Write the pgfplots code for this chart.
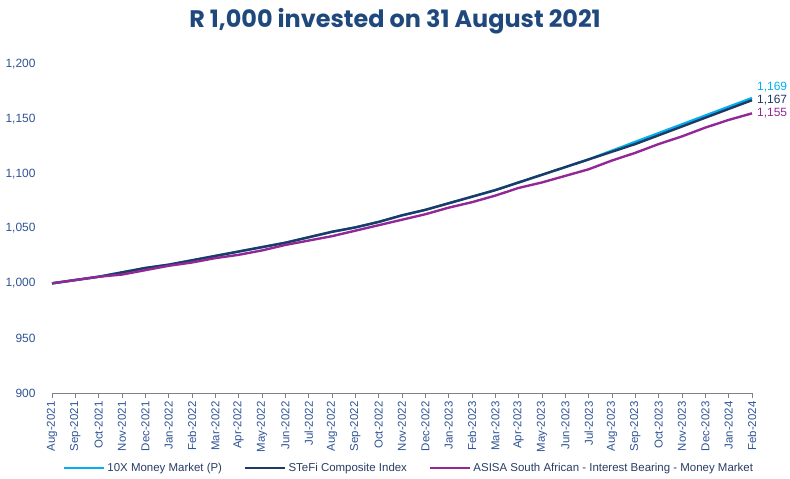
\documentclass[border=0pt]{standalone}
\usepackage{fontspec}
\setmainfont{Liberation Sans}
\newfontfamily\titlefont{Poppins}
\usepackage{pgfplots}
\pgfplotsset{compat=1.18}
\definecolor{tenx}{RGB}{0,176,240}
\definecolor{stefi}{RGB}{31,56,100}
\definecolor{asisa}{RGB}{145,40,150}
\definecolor{titlec}{RGB}{31,73,125}
\definecolor{tickc}{RGB}{47,84,150}
\definecolor{axisc}{RGB}{128,128,140}
\definecolor{legc}{RGB}{40,60,100}
\begin{document}
\begin{tikzpicture}
\path[use as bounding box] (-52bp,-86bp) rectangle (738bp,393bp);
\begin{axis}[
  at={(0,0)}, anchor=origin,
  scale only axis, width=700bp, height=329bp,
  xmin=0, xmax=30, ymin=900, ymax=1200,
  clip=false,
  axis x line*=bottom, axis y line*=left,
  y axis line style={draw=none},
  x axis line style={draw=axisc, line width=0.9pt, -},
  xtick={0,...,30},
  xticklabels={Aug-2021,Sep-2021,Oct-2021,Nov-2021,Dec-2021,Jan-2022,Feb-2022,Mar-2022,Apr-2022,May-2022,Jun-2022,Jul-2022,Aug-2022,Sep-2022,Oct-2022,Nov-2022,Dec-2022,Jan-2023,Feb-2023,Mar-2023,Apr-2023,May-2023,Jun-2023,Jul-2023,Aug-2023,Sep-2023,Oct-2023,Nov-2023,Dec-2023,Jan-2024,Feb-2024},
  xticklabel style={rotate=90, anchor=east, font=\fontsize{11.5}{13}\selectfont, text=tickc, xshift=0bp},
  x tick style={draw=axisc, line width=0.9pt},
  tick align=outside, major tick length=5bp,
  ytick={900,950,...,1200},
  ytick style={draw=none},
  yticklabel style={font=\fontsize{12}{14}\selectfont, text=tickc, xshift=-8bp},
  /pgf/number format/.cd, 1000 sep={,}, assume math mode=true,
  /pgfplots/.cd,
  legend columns=3,
  legend style={draw=none, fill=none, at={(0.51,-0.228)}, anchor=center,
    font=\fontsize{11.5}{13}\selectfont, text=legc,
    /tikz/every even column/.append style={column sep=20bp}},
  legend image code/.code={\draw[#1, line width=2.5pt] (0bp,0bp) -- (40bp,0bp);},
]
\addplot[tenx, line width=2.4pt] coordinates {
(0,1000)(1,1003)(2,1006)(3,1010)(4,1014)(5,1017)(6,1021)(7,1025)(8,1029)(9,1033)(10,1037)(11,1042)(12,1047)(13,1051)(14,1056)(15,1062)(16,1067)(17,1073)(18,1079)(19,1085)(20,1092)(21,1099)(22,1106)(23,1113)(24,1121)(25,1129)(26,1137)(27,1145)(28,1153)(29,1161)(30,1169)};
\addlegendentry{10X Money Market (P)}
\addplot[stefi, line width=2.4pt] coordinates {
(0,1000)(1,1003)(2,1006)(3,1010)(4,1014)(5,1017)(6,1021)(7,1025)(8,1029)(9,1033)(10,1037)(11,1042)(12,1047)(13,1051)(14,1056)(15,1062)(16,1067)(17,1073)(18,1079)(19,1085)(20,1092)(21,1099)(22,1106)(23,1113)(24,1120)(25,1127)(26,1135)(27,1143)(28,1151)(29,1159)(30,1167)};
\addlegendentry{STeFi Composite Index}
\addplot[asisa, line width=2.4pt] coordinates {
(0,1000)(1,1003)(2,1006)(3,1008)(4,1012)(5,1016)(6,1019)(7,1023)(8,1026)(9,1030)(10,1035)(11,1039)(12,1043)(13,1048)(14,1053)(15,1058)(16,1063)(17,1069)(18,1074)(19,1080)(20,1087)(21,1092)(22,1098)(23,1104)(24,1112)(25,1119)(26,1127)(27,1134)(28,1142)(29,1149)(30,1155)};
\addlegendentry{ASISA South African - Interest Bearing - Money Market}
\node[anchor=west, text=tenx, font=\fontsize{12}{14}\selectfont, inner sep=0pt] at (axis cs:30,1169) [xshift=5bp, yshift=11bp] {1,169};
\node[anchor=west, text=stefi, font=\fontsize{12}{14}\selectfont, inner sep=0pt] at (axis cs:30,1167) [xshift=5bp, yshift=0bp] {1,167};
\node[anchor=west, text=asisa, font=\fontsize{12}{14}\selectfont, inner sep=0pt] at (axis cs:30,1155) [xshift=5bp, yshift=0bp] {1,155};
\end{axis}
\node[text=titlec, font=\titlefont\bfseries\fontsize{24}{28}\selectfont] at (343bp,372bp) {R 1,000 invested on 31 August 2021};
\end{tikzpicture}
\end{document}
